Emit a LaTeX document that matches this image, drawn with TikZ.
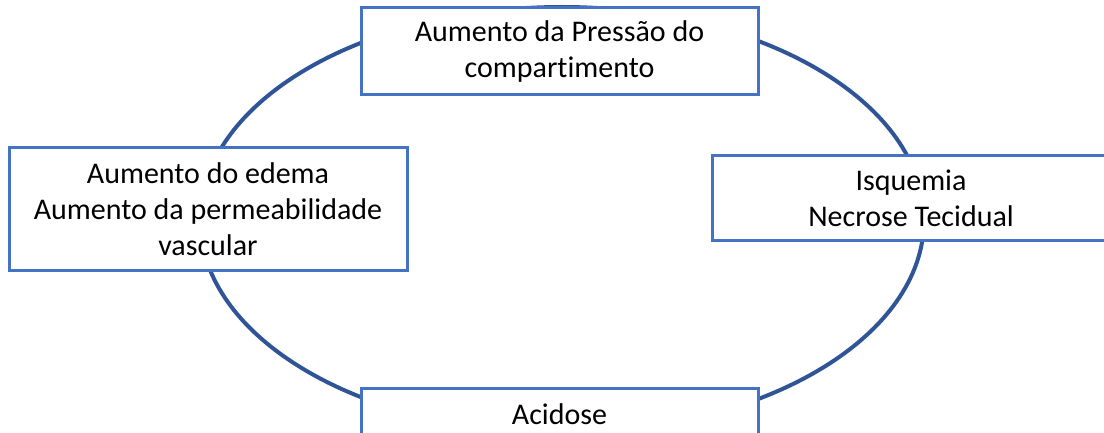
\documentclass[tikz,border=0pt]{standalone}
\usepackage{fontspec}
\setmainfont{Carlito}[Ligatures=NoCommon]
\definecolor{cycleblue}{HTML}{2F5597}
\definecolor{boxblue}{HTML}{4472C4}

\begin{document}
\begin{tikzpicture}[x=1pt,y=-1pt,
    stage/.style={draw=boxblue,line width=3pt,fill=white,align=center,
      font=\fontsize{30}{36}\selectfont,minimum width=397pt,inner sep=0pt}]
    \useasboundingbox (0,0) rectangle (1104,433);
    \clip (0,0) rectangle (1104,433);
    \draw[cycleblue,line width=4pt] (562,220) ellipse [x radius=362,y radius=213];
    \node[stage,minimum height=87pt] (pressao) at (559.5,51.5) {Aumento da Pressão do\\compartimento};
    \node[stage,minimum height=84pt] (isquemia) at (911,198) {Isquemia\\Necrose Tecidual};
    \node[stage,minimum height=52pt] (acidose) at (559.5,414) {Acidose};
    \node[stage,minimum width=398pt,minimum height=122pt] (edema) at (208,209) {Aumento do edema\\Aumento da permeabilidade\\vascular};
\end{tikzpicture}
\end{document}
